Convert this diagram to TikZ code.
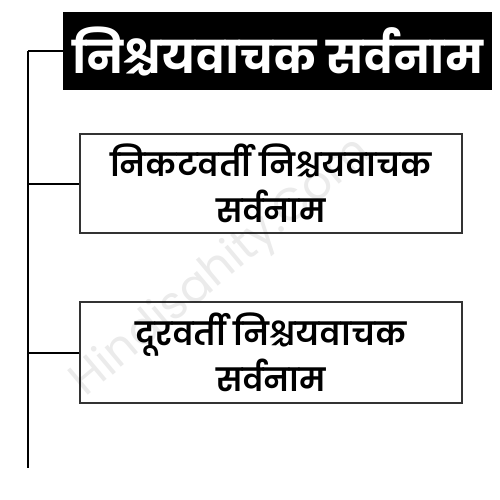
\documentclass[tikz,border=0pt]{standalone}
\usepackage{fontspec}
\newfontfamily\hbold[Script=Devanagari]{Poppins Bold}
\newfontfamily\hsemi[Script=Devanagari]{Poppins SemiBold}
\newfontfamily\hreg[Script=Devanagari]{Poppins}
\begin{document}
\begin{tikzpicture}[x=1pt,y=-1pt,
  line/.style={line width=2pt,black},
  title/.style={fill=black,text=white,font=\hbold\fontsize{45}{50}\selectfont,inner sep=0pt,minimum width=429pt,minimum height=78pt,anchor=north west},
  sub/.style={draw=black!80,line width=2pt,fill=white,font=\hsemi\fontsize{32}{46}\selectfont,align=center,inner sep=0pt,minimum width=382pt,anchor=north west}]
\useasboundingbox (0,0) rectangle (500,500);
\node[title] (t) at (63,12) {निश्चयवाचक सर्वनाम};
\node[sub,minimum height=99pt] (a) at (79,133) {निकटवर्ती निश्चयवाचक\\सर्वनाम};
\node[sub,minimum height=101pt] (b) at (79,301) {दूरवर्ती निश्चयवाचक\\सर्वनाम};
\coordinate (top) at (28,51);
\coordinate (bot) at (28,468);
\draw[line] (top) -- (bot);
\draw[line] (top) -- (t.west |- top);
\draw[line] (a.west -| top) -- (a.west);
\draw[line] (b.west -| top) -- (b.west);
\node[text=black,opacity=0.08,font=\hreg\fontsize{46}{50}\selectfont,rotate=40] (wm) at (222,268) {Hindisahity.Com};
\end{tikzpicture}
\end{document}
